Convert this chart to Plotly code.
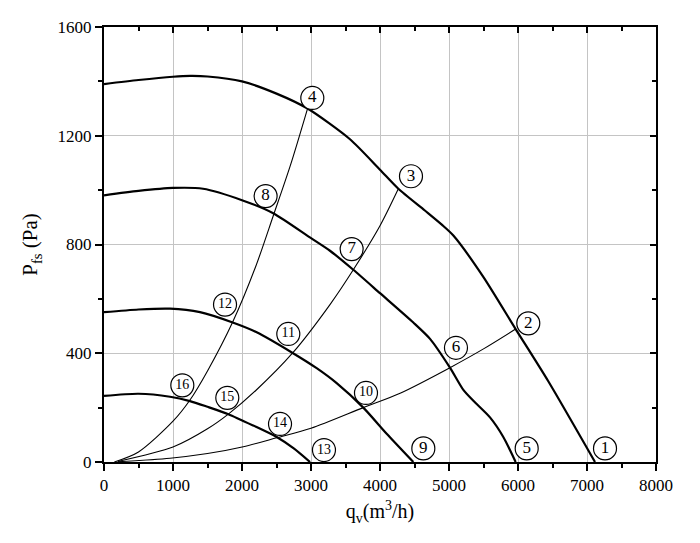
import plotly.graph_objects as go

# fan curves at four speeds (q in m3/h, P in Pa)
c1_q = [0, 500, 1000, 1250, 1500, 2000, 2500, 2950, 3565, 4000, 4266, 4650, 4900, 5063, 5497, 5966, 6439, 7116]
c1_p = [1390, 1405, 1417, 1420, 1418, 1400, 1355, 1300, 1187, 1075, 1005, 925, 872, 833, 681, 489, 297, 0]

c2_q = [0, 500, 1000, 1435, 2000, 2452, 2990, 3275, 3613, 4000, 4483, 4725, 5014, 5208, 5353, 5594, 5787, 5966]
c2_p = [981, 997, 1008, 1005, 963, 915, 825, 777, 707, 621, 513, 453, 347, 265, 225, 164, 92, 0]

c3_q = [0, 500, 957, 1391, 1865, 2213, 2734, 3082, 3372, 3758, 4097, 4483]
c3_p = [551, 561, 564, 551, 513, 477, 401, 345, 290, 200, 104, 0]

c4_q = [0, 500, 957, 1246, 1500, 1802, 2164, 2503, 2750, 2986]
c4_p = [243, 251, 240, 224, 203, 176, 134, 92, 50, 0]

# system resistance lines
sa_q = [150, 500, 1000, 1246, 1500, 1865, 2200, 2452, 2700, 2950]
sa_p = [0, 37, 150, 228, 335, 515, 720, 905, 1090, 1300]

sb_q = [200, 1000, 1500, 1802, 2200, 2734, 3275, 3613, 4000, 4266]
sb_p = [2, 55, 122, 176, 263, 401, 579, 707, 869, 1005]

sc_q = [200, 957, 1500, 2019, 2503, 3000, 3758, 4300, 5014, 5500, 5966]
sc_p = [1, 14, 31, 56, 89, 124, 200, 254, 347, 416, 489]

# circled point labels
lab_txt = ["1", "2", "3", "4", "5", "6", "7", "8",
           "9", "10", "11", "12", "13", "14", "15", "16"]
lab_q = [7261, 6149, 4449, 3019, 6126, 5101, 3589, 2342,
         4628, 3797, 2671, 1754, 3188, 2551, 1787, 1135]
lab_p = [50, 510, 1051, 1339, 50, 420, 783, 978,
         50, 254, 471, 579, 44, 140, 236, 282]

serif = "Liberation Serif"

fig = go.Figure()

for q, p in [(sa_q, sa_p), (sb_q, sb_p), (sc_q, sc_p)]:
    fig.add_trace(go.Scatter(x=q, y=p, mode="lines",
                             line=dict(color="black", width=1.1, shape="spline", smoothing=0.8),
                             showlegend=False, hoverinfo="skip"))

for q, p in [(c1_q, c1_p), (c2_q, c2_p), (c3_q, c3_p), (c4_q, c4_p)]:
    fig.add_trace(go.Scatter(x=q, y=p, mode="lines",
                             line=dict(color="black", width=2.2, shape="spline", smoothing=0.7),
                             showlegend=False, hoverinfo="skip"))

# labels: one-digit and two-digit ones get different font sizes
for digits, fsize in [(1, 17), (2, 14)]:
    idx = [i for i, t in enumerate(lab_txt) if len(t) == digits]
    fig.add_trace(go.Scatter(
        x=[lab_q[i] for i in idx], y=[lab_p[i] for i in idx],
        mode="markers+text", text=[lab_txt[i] for i in idx],
        textposition="middle center",
        textfont=dict(family=serif, size=fsize, color="black"),
        marker=dict(symbol="circle", size=23, color="white",
                    line=dict(color="black", width=1.2)),
        showlegend=False, hoverinfo="skip"))

# invisible trace so the top/right frame axes get drawn
fig.add_trace(go.Scatter(x=[0], y=[0], xaxis="x2", yaxis="y2", mode="markers",
                         marker=dict(opacity=0), showlegend=False, hoverinfo="skip"))

line_style = dict(showline=True, linecolor="black", linewidth=2, zeroline=False)

fig.update_layout(
    width=692, height=535,
    margin=dict(l=96, r=44, t=10, b=81),
    plot_bgcolor="white", paper_bgcolor="white",
    xaxis=dict(range=[0, 8000], dtick=1000, **line_style,
               ticks="outside", ticklen=7, tickwidth=1.5, tickcolor="black",
               minor=dict(dtick=500, ticks="outside", ticklen=4, tickcolor="black", showgrid=False),
               showgrid=True, gridcolor="#c4c4c4", gridwidth=1,
               tickfont=dict(family=serif, size=17, color="black"),
               title=dict(text="q<sub>v</sub>(m<sup>3</sup>/h)",
                          font=dict(family=serif, size=20, color="black"), standoff=10)),
    yaxis=dict(range=[0, 1600], dtick=400, **line_style,
               ticks="outside", ticklen=7, tickwidth=1.5, tickcolor="black",
               minor=dict(dtick=200, ticks="outside", ticklen=4, tickcolor="black", showgrid=False),
               showgrid=True, gridcolor="#c4c4c4", gridwidth=1,
               tickfont=dict(family=serif, size=17, color="black"),
               title=dict(text="P<sub>fs</sub> (Pa)",
                          font=dict(family=serif, size=21, color="black"), standoff=14)),
    xaxis2=dict(range=[0, 8000], dtick=1000, overlaying="x", side="top", anchor="y2",
                **line_style, showticklabels=False, showgrid=False,
                ticks="inside", ticklen=6, tickwidth=1.5, tickcolor="black",
                minor=dict(dtick=500, ticks="inside", ticklen=4, tickcolor="black", showgrid=False)),
    yaxis2=dict(range=[0, 1600], dtick=400, overlaying="y", side="right", anchor="x2",
                **line_style, showticklabels=False, showgrid=False,
                ticks="inside", ticklen=6, tickwidth=1.5, tickcolor="black",
                minor=dict(dtick=200, ticks="inside", ticklen=4, tickcolor="black", showgrid=False)),
)

fig.write_html("out.html")
